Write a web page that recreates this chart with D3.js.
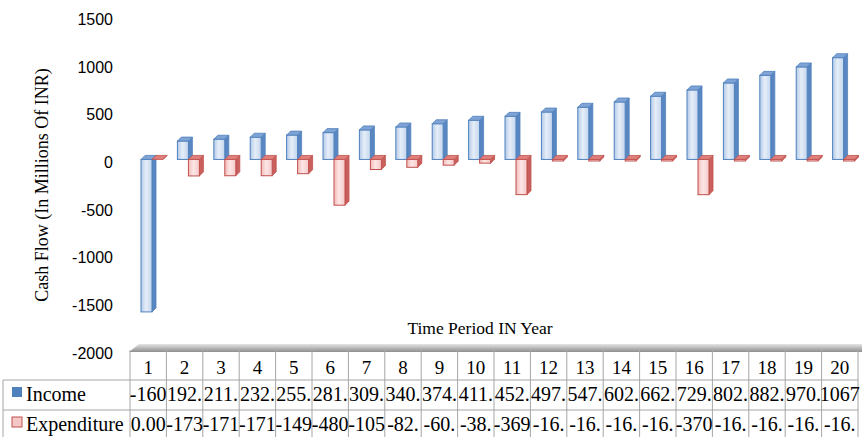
<!DOCTYPE html>
<html>
<head>
<meta charset="utf-8">
<script src="https://cdn.jsdelivr.net/npm/d3@7/dist/d3.min.js"></script>
<style>
    body { margin: 0; background: #fff; }
</style>
</head>
<body>
<div id="chart"></div>
<script>
    // data
    var years = ["1","2","3","4","5","6","7","8","9","10","11","12","13","14","15","16","17","18","19","20"];
    var income = [-1600.3, 192.5, 211.7, 232.9, 255.2, 281.4, 309.6, 340.5, 374.6, 411.0,
                  452.1, 497.3, 547.0, 602.7, 662.9, 729.2, 802.2, 882.4, 970.6, 1067.7];
    var expenditure = [0, -173.4, -171.2, -171.2, -149.6, -480.3, -105.8, -82.5, -60.2, -38.9,
                       -369.5, -16.4, -16.4, -16.4, -16.4, -370.1, -16.4, -16.4, -16.4, -16.4];
    var seriesNames = ["Income", "Expenditure"];
    var yTicks = [-2000, -1500, -1000, -500, 0, 500, 1000, 1500];

    var W = 862, H = 437;
    var depth = 4, barW = 11, shift = -3;

    var svg = d3.select("#chart").append("svg")
        .attr("width", W)
        .attr("height", H);

    var x = d3.scaleBand()
        .domain(years)
        .range([130, 858]);

    var y = d3.scaleLinear()
        .domain([-2000, 1500])
        .range([353, 19.5]);

    var defs = svg.append("defs");
    function grad(id, stops) {
        var g = defs.append("linearGradient").attr("id", id)
            .attr("x1", "0%").attr("x2", "100%").attr("y1", "0%").attr("y2", "0%");
        stops.forEach(function(s) {
            g.append("stop").attr("offset", s[0]).attr("stop-color", s[1]);
        });
    }
    grad("blueFront", [["0%", "#b3c9e8"], ["45%", "#e6eef8"], ["100%", "#c3d5ee"]]);
    grad("redFront", [["0%", "#f2b9b8"], ["45%", "#fde6e6"], ["100%", "#f5c9c8"]]);
    var floorG = defs.append("linearGradient").attr("id", "floorG")
        .attr("x1", "0%").attr("x2", "0%").attr("y1", "0%").attr("y2", "100%");
    floorG.append("stop").attr("offset", "0%").attr("stop-color", "#e4e4e4");
    floorG.append("stop").attr("offset", "100%").attr("stop-color", "#8e8e8e");

    var styles = [
        { front: "url(#blueFront)", top: "#7fa3d4", side: "#5a87c2", stroke: "#4f81bd", key: "#4f81bd" },
        { front: "url(#redFront)", top: "#de7f7c", side: "#c9605d", stroke: "#c0504d", key: "#f5c7c6" }
    ];

    // y axis labels
    svg.append("g").selectAll("text")
        .data(yTicks)
        .enter().append("text")
        .attr("x", 113)
        .attr("y", function(d) { return y(d); })
        .attr("dy", "0.35em")
        .attr("text-anchor", "end")
        .style("font-family", "Liberation Sans, Arial, sans-serif")
        .style("font-size", "16px")
        .attr("fill", "#000")
        .text(function(d) { return d; });

    svg.append("text")
        .attr("transform", "translate(48," + 185 + ")rotate(-90)")
        .attr("text-anchor", "middle")
        .style("font-family", "Liberation Serif, Times New Roman, serif")
        .style("font-size", "18px")
        .text("Cash Flow (In Millions Of INR)");

    // floor
    var fx0 = x.range()[0], fx1 = x.range()[1], fy = y(-2000);
    svg.append("path")
        .attr("d", "M" + (fx0 - 1) + "," + (fy - 1) + " L" + (fx0 + 9) + "," + (fy - 9) +
                   " L" + (fx1 + 4) + "," + (fy - 9) + " L" + (fx1 + 4) + "," + (fy - 1) + " Z")
        .attr("fill", "url(#floorG)");

    // 3D bars
    function bar(g, cx, v, st) {
        var y0 = y(0) + shift, y1 = y(v) + shift;
        var t = Math.min(y0, y1), b = Math.max(y0, y1);
        g.append("path")
            .attr("d", "M" + (cx + barW) + "," + t + " L" + (cx + barW + depth) + "," + (t - depth) +
                       " L" + (cx + barW + depth) + "," + (b - depth) + " L" + (cx + barW) + "," + b + " Z")
            .attr("fill", st.side).attr("stroke", st.stroke).attr("stroke-width", 0.8);
        g.append("rect")
            .attr("x", cx).attr("y", t)
            .attr("width", barW).attr("height", b - t)
            .attr("fill", st.front).attr("stroke", st.stroke).attr("stroke-width", 1);
        g.append("path")
            .attr("d", "M" + cx + "," + t + " L" + (cx + depth) + "," + (t - depth) +
                       " L" + (cx + barW + depth) + "," + (t - depth) + " L" + (cx + barW) + "," + t + " Z")
            .attr("fill", st.top).attr("stroke", st.stroke).attr("stroke-width", 0.8);
    }

    var bars = svg.append("g");
    years.forEach(function(yr, i) {
        var g = bars.append("g");
        bar(g, x(yr) + 11, income[i], styles[0]);
        bar(g, x(yr) + 22, expenditure[i], styles[1]);
    });

    // axis title
    svg.append("text")
        .attr("x", 480)
        .attr("y", 334)
        .attr("text-anchor", "middle")
        .style("font-family", "Liberation Serif, Times New Roman, serif")
        .style("font-size", "17.5px")
        .text("Time Period IN Year");

    // data table
    var grid = "#a6a6a6";
    var rowTop = 380, rowMid = 410, rowBot = 440;
    var tbl = svg.append("g");
    x.domain().concat(["end"]).forEach(function(yr, i) {
        var xx = x.range()[0] + i * x.bandwidth();
        tbl.append("line")
            .attr("x1", xx).attr("x2", xx)
            .attr("y1", fy - 3).attr("y2", rowBot)
            .attr("stroke", grid).attr("stroke-width", 1);
    });
    tbl.append("line").attr("x1", 3).attr("x2", 3).attr("y1", rowTop).attr("y2", rowBot)
        .attr("stroke", grid);
    [rowTop, rowMid].forEach(function(ry) {
        tbl.append("line").attr("x1", 3).attr("x2", fx1).attr("y1", ry).attr("y2", ry)
            .attr("stroke", grid);
    });

    var serif = "Liberation Serif, Times New Roman, serif";
    tbl.selectAll("text.hdr")
        .data(years)
        .enter().append("text")
        .attr("x", function(d) { return x(d) + x.bandwidth() / 2; })
        .attr("y", 374)
        .attr("text-anchor", "middle")
        .style("font-family", serif)
        .style("font-size", "19px")
        .text(function(d) { return d; });

    // cells show the value cut to four characters, like the original table
    var cellFmt = function(v) { return v.toFixed(2).slice(0, 4); };
    [income, expenditure].forEach(function(vals, r) {
        var base = r === 0 ? 401 : 431;
        tbl.append("g").selectAll("text")
            .data(vals)
            .enter().append("text")
            .attr("x", function(d, i) { return x(years[i]) + x.bandwidth() / 2; })
            .attr("y", base)
            .attr("text-anchor", "middle")
            .style("font-family", serif)
            .style("font-size", "20px")
            .text(function(d) { return cellFmt(d); });
        tbl.append("rect")
            .attr("x", 12).attr("y", base - 14)
            .attr("width", 10).attr("height", 10)
            .attr("fill", styles[r].key)
            .attr("stroke", r === 0 ? "#4f81bd" : "#c0504d")
            .attr("stroke-width", r === 0 ? 0 : 1);
        tbl.append("text")
            .attr("x", 26).attr("y", base)
            .style("font-family", serif)
            .style("font-size", "20px")
            .text(seriesNames[r]);
    });
</script>
</body>
</html>
